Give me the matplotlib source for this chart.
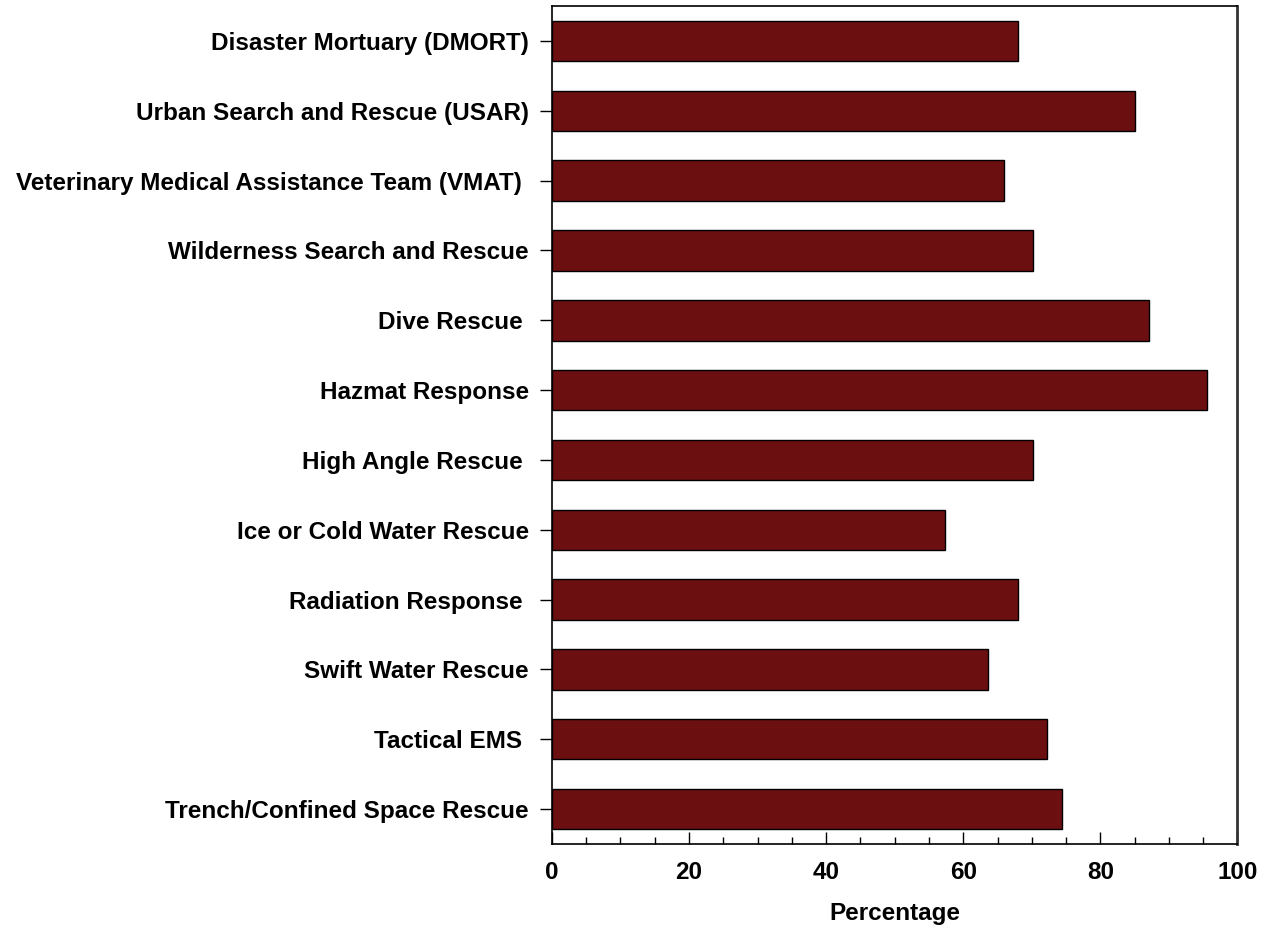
import matplotlib
matplotlib.use("Agg")
from matplotlib import pyplot as plt
from matplotlib.ticker import MultipleLocator

categories = [
    "Disaster Mortuary (DMORT)",
    "Urban Search and Rescue (USAR)",
    "Veterinary Medical Assistance Team (VMAT) ",
    "Wilderness Search and Rescue",
    "Dive Rescue ",
    "Hazmat Response",
    "High Angle Rescue ",
    "Ice or Cold Water Rescue",
    "Radiation Response ",
    "Swift Water Rescue",
    "Tactical EMS ",
    "Trench/Confined Space Rescue",
]
percentages = [68.0, 85.0, 65.9, 70.1, 87.1, 95.6, 70.1, 57.4, 68.0, 63.6, 72.2, 74.4]

plt.rcParams['font.family'] = ['Liberation Sans', 'DejaVu Sans']
plt.rcParams['font.weight'] = 'bold'

fig = plt.figure(figsize=(12.7, 9.3), dpi=100)
ax = fig.add_axes([0.4346, 0.0925, 0.5398, 0.901])

ypos = list(range(len(categories)))
ax.barh(ypos, percentages, height=0.58, color="#6c0f10", edgecolor="black", linewidth=1)

ax.set_ylim(len(categories) - 0.5, -0.5)
ax.set_yticks(ypos)
ax.set_yticklabels(categories, fontsize=17.5, fontweight="bold")
ax.tick_params(axis="y", direction="out", length=8.5, width=1, pad=8)

ax.set_xlim(0, 100)
ax.xaxis.set_major_locator(MultipleLocator(20))
ax.xaxis.set_minor_locator(MultipleLocator(5))
ax.tick_params(axis="x", which="major", direction="in", length=9, width=1, labelsize=17.5, pad=12)
ax.tick_params(axis="x", which="minor", direction="in", length=5, width=1)
for lab in ax.get_xticklabels():
    lab.set_fontweight("bold")
ax.set_xlabel("Percentage", fontsize=17.5, fontweight="bold", labelpad=13)

for side in ["left", "bottom", "top"]:
    ax.spines[side].set_linewidth(1.2)
ax.spines["right"].set_linewidth(2)
ax.spines["right"].set_color("#333333")

fig.savefig("out.png", dpi=100)
